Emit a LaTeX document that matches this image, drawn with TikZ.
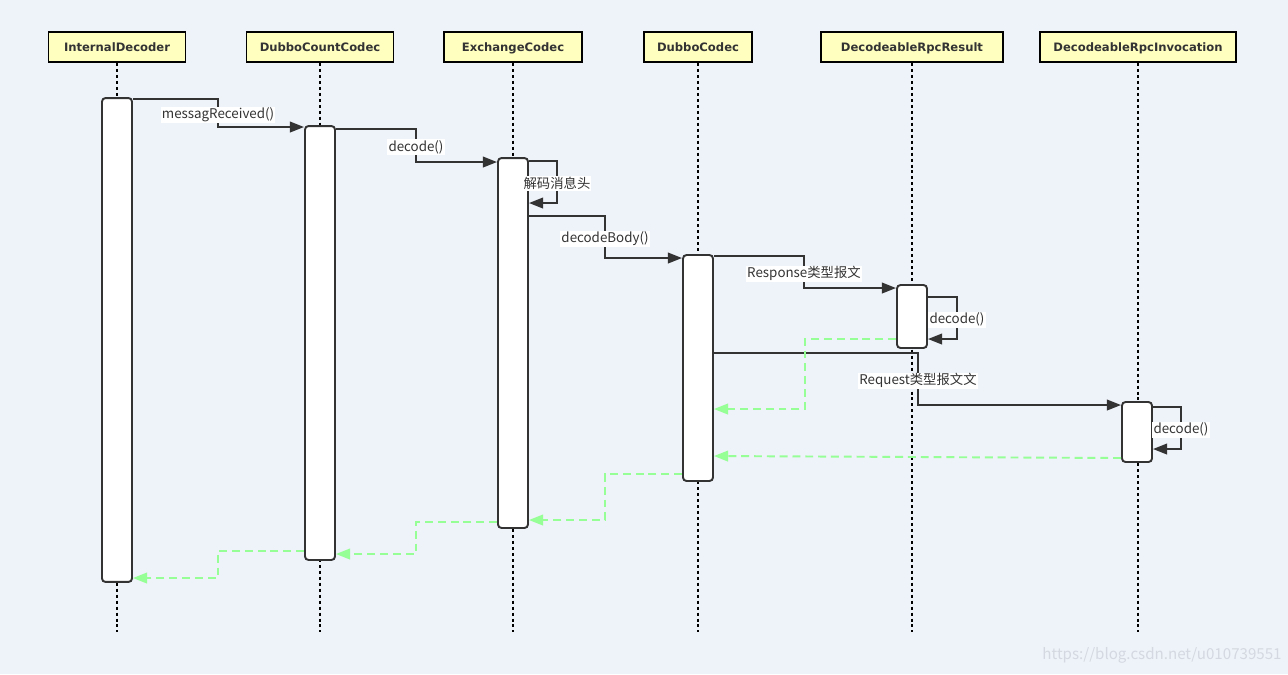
\documentclass[tikz,border=0pt]{standalone}
\usepackage{fontspec}
\setmainfont{Noto Sans CJK SC}
\newfontfamily\headfont{DejaVu Sans}
\usetikzlibrary{arrows.meta}
\definecolor{bgblue}{RGB}{238,242,249}
\definecolor{headyellow}{RGB}{255,255,192}
\definecolor{linegray}{RGB}{51,51,51}
\definecolor{retgreen}{RGB}{150,255,150}
\definecolor{markgray}{RGB}{212,216,224}

\begin{document}
\begin{tikzpicture}[x=0.02cm,y=-0.02cm,
  lifehead/.style={rectangle,draw=black,line width=1.1pt,fill=headyellow,
    minimum height=0.6cm,inner sep=0pt,text=linegray,text depth=0pt,
    font=\headfont\bfseries\fontsize{6.6}{8}\selectfont},
  lifeline/.style={draw=black,line width=1.1pt,dash pattern=on 1.7pt off 1.7pt},
  actbar/.style={rectangle,draw=linegray,line width=1.1pt,fill=white,
    rounded corners=2pt,minimum width=0.6cm,inner sep=0pt},
  callmsg/.style={draw=linegray,line width=1.1pt,-{Triangle[length=8pt,width=6pt]}},
  retmsg/.style={draw=retgreen,line width=1.1pt,dash pattern=on 4.5pt off 2.8pt,
    -{Triangle[length=8pt,width=6pt]}},
  msglabel/.style={fill=white,inner sep=0.6pt,text=linegray,yshift=-1pt,
    font=\fontsize{7.6}{9}\selectfont}]
  \fill[bgblue] (0,0) rectangle (1288,674);
  % Lifeline heads
  \node[lifehead,minimum width=2.74cm] (hInt) at (117,47) {InternalDecoder};
  \node[lifehead,minimum width=2.94cm] (hCount) at (320,47) {DubboCountCodec};
  \node[lifehead,minimum width=2.76cm] (hExch) at (513,47) {ExchangeCodec};
  \node[lifehead,minimum width=2.16cm] (hDubbo) at (698,47) {DubboCodec};
  \node[lifehead,minimum width=3.64cm] (hResult) at (912,47) {DecodeableRpcResult};
  \node[lifehead,minimum width=3.92cm] (hInvoc) at (1138,47) {DecodeableRpcInvocation};
  % Lifelines
  \foreach \h in {hInt,hCount,hExch,hDubbo,hResult,hInvoc}
    \draw[lifeline] (\h.south) -- (\h.south |- 0,632);
  % Activation bars
  \node[actbar,minimum height=9.68cm] (bInt) at (117,340) {};
  \node[actbar,minimum height=8.68cm] (bCount) at (320,343) {};
  \node[actbar,minimum height=7.4cm] (bExch) at (513,343) {};
  \node[actbar,minimum height=4.52cm] (bDubbo) at (698,368) {};
  \node[actbar,minimum height=1.26cm] (bResult) at (912,316.5) {};
  \node[actbar,minimum height=1.2cm] (bInvoc) at (1137,432) {};
  % Calls
  \draw[callmsg] (bInt.east |- 0,99) -- (218,99)
    -- node[msglabel] {messagReceived()} (218,127) -- (bCount.west |- 0,127);
  \draw[callmsg] (bCount.east |- 0,129) -- (416,129)
    -- node[msglabel] {decode()} (416,162) -- (bExch.west |- 0,162);
  \draw[callmsg] (bExch.east |- 0,161) -- (557,161)
    -- node[msglabel] {解码消息头} (557,203) -- (bExch.east |- 0,203);
  \draw[callmsg] (bExch.east |- 0,216) -- (605,216)
    -- node[msglabel] {decodeBody()} (605,258) -- (bDubbo.west |- 0,258);
  \draw[callmsg] (bDubbo.east |- 0,256) -- (804,256)
    -- node[msglabel] {Response类型报文} (804,288) -- (bResult.west |- 0,288);
  \draw[callmsg] (bResult.east |- 0,297) -- (957,297)
    -- node[msglabel] {decode()} (957,339) -- (bResult.east |- 0,339);
  \draw[callmsg] (bDubbo.east |- 0,353) -- (918,353)
    -- node[msglabel] {Request类型报文文} (918,405) -- (bInvoc.west |- 0,405);
  \draw[callmsg] (bInvoc.east |- 0,407) -- (1181,407)
    -- node[msglabel] {decode()} (1181,449) -- (bInvoc.east |- 0,449);
  % Returns
  \draw[retmsg] (bResult.west |- 0,339) -- (805,339) -- (805,409) -- (bDubbo.east |- 0,409);
  \draw[retmsg] (bInvoc.west |- 0,458) -- (bDubbo.east |- 0,456);
  \draw[retmsg] (bDubbo.west |- 0,474) -- (605,474) -- (605,520) -- (bExch.east |- 0,520);
  \draw[retmsg] (bExch.west |- 0,522) -- (416,522) -- (416,554) -- (bCount.east |- 0,554);
  \draw[retmsg] (bCount.west |- 0,551) -- (218,551) -- (218,578) -- (bInt.east |- 0,578);
  % Watermark
  \node[text=markgray,font=\fontsize{8.6}{10}\selectfont] (mark) at (1162,655)
    {https://blog.csdn.net/u010739551};
\end{tikzpicture}
\end{document}
